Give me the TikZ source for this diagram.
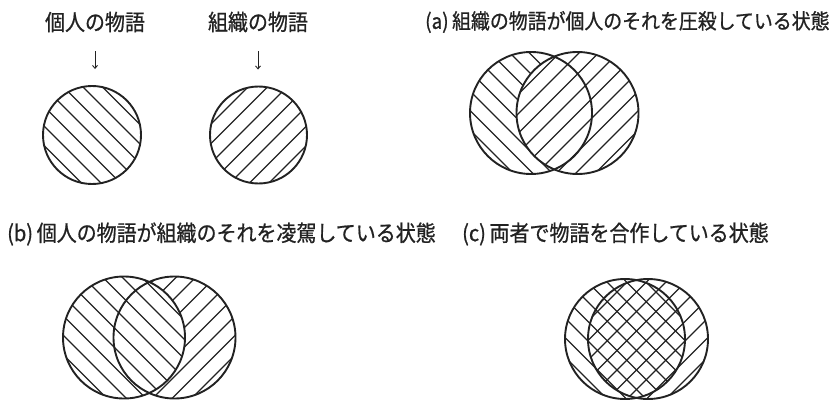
\documentclass[tikz,border=0pt]{standalone}
\usepackage{fontspec}
\setmainfont{Noto Sans CJK JP}[FakeStretch=0.9, FakeBold=0.8]
\usetikzlibrary{arrows.meta}
\definecolor{ink}{HTML}{222222}
\tikzset{
  ring/.style={circle, draw=ink, line width=1.9pt, inner sep=0pt, minimum size=#1},
  hatchline/.style={draw=ink, line width=1.2pt},
  lab/.style={font=\fontsize{22.2}{26}\selectfont, inner sep=0pt, text=ink},
  labsmall/.style={font=\fontsize{21}{25}\selectfont, inner sep=0pt, text=ink},
  arr/.style={draw=ink, line width=0.9pt, -{Straight Barb[length=3pt,width=5pt]}}
}
% "\" hatching centred on (#1,#2)
\newcommand\hatchback[2]{%
  \foreach \k in {-7,...,7}{\draw[hatchline] ({#1+\k*19.5-95},{#2-95}) -- ({#1+\k*19.5+95},{#2+95});}}
% "/" hatching centred on (#1,#2)
\newcommand\hatchfwd[2]{%
  \foreach \k in {-7,...,7}{\draw[hatchline] ({#1+\k*19.5-95},{#2+95}) -- ({#1+\k*19.5+95},{#2-95});}}
\begin{document}
\begin{tikzpicture}[x=1pt,y=-1pt]
\useasboundingbox (0,0) rectangle (832,401);

% ---------- single circles ----------
\begin{scope}
  \clip (92,135) circle[radius=49pt];
  \hatchback{92}{135}
\end{scope}
\node[ring=98pt] (C1) at (92,135) {};
\begin{scope}
  \clip (258.5,135) circle[radius=48.5pt];
  \hatchfwd{258.5}{135}
\end{scope}
\node[ring=97pt] (C2) at (258.5,135) {};

\node[lab] (lab1) at (95,22) {個人の物語};
\node[lab] (lab2) at (258,22) {組織の物語};
\draw[arr, shorten <=19pt, shorten >=16pt] (lab1.south) -- (lab1.south |- C1.north);
\draw[arr, shorten <=19pt, shorten >=16pt] (lab2.south) -- (lab2.south |- C2.north);

% ---------- (a) ----------
\node[labsmall, anchor=west] (la) at (425,22) {(a)\,組織の物語が個人のそれを圧殺している状態};
\begin{scope}
  \clip (531,113) circle[radius=61pt];
  \begin{scope}[even odd rule]
    \clip (0,0) rectangle (832,401) (577.5,113) circle[radius=61pt];
    \hatchback{531}{113}
  \end{scope}
\end{scope}
\begin{scope}
  \clip (577.5,113) circle[radius=61pt];
  \hatchfwd{577.5}{113}
\end{scope}
\node[ring=122pt] (AL) at (531,113) {};
\node[ring=122pt] (AR) at (577.5,113) {};

% ---------- (b) ----------
\node[lab, anchor=west] (lb) at (7,234) {(b)\,個人の物語が組織のそれを凌駕している状態};
\begin{scope}
  \clip (124,337.5) circle[radius=61pt];
  \hatchback{124}{337.5}
\end{scope}
\begin{scope}
  \clip (174.5,337.5) circle[radius=61pt];
  \begin{scope}[even odd rule]
    \clip (0,0) rectangle (832,401) (124,337.5) circle[radius=61pt];
    \hatchfwd{174.5}{337.5}
  \end{scope}
\end{scope}
\node[ring=122pt] (BL) at (124,337.5) {};
\node[ring=122pt] (BR) at (174.5,337.5) {};

% ---------- (c) ----------
\node[lab, anchor=west] (lc) at (462,234) {(c)\,両者で物語を合作している状態};
\begin{scope}
  \clip (625,339) circle[radius=60pt];
  \hatchback{625}{339}
\end{scope}
\begin{scope}
  \clip (648,339) circle[radius=60pt];
  \hatchfwd{648}{339}
\end{scope}
\node[ring=120pt] (CL) at (625,339) {};
\node[ring=120pt] (CR) at (648,339) {};
\end{tikzpicture}
\end{document}
